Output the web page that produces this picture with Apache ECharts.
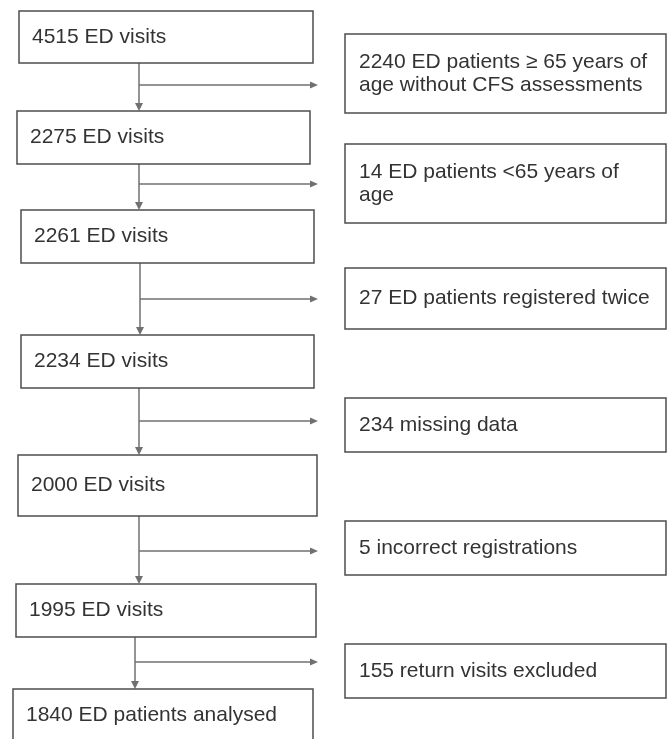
<!DOCTYPE html>
<html>
<head>
<meta charset="utf-8">
<script src="https://cdn.jsdelivr.net/npm/echarts@6/dist/echarts.min.js"></script>
<style>
  html, body { margin: 0; padding: 0; background: #fff; }
  #flow { width: 668px; height: 739px; }
</style>
</head>
<body>
<div id="flow"></div>
<script>
// flow counts and labels
const mainCounts = [4515, 2275, 2261, 2234, 2000, 1995, 1840];
const mainLabels = ['ED visits', 'ED visits', 'ED visits', 'ED visits', 'ED visits', 'ED visits', 'ED patients analysed'];
const excludedCounts = [2240, 14, 27, 234, 5, 155];
const excludedReasons = [
    'ED patients \u2265 65 years of\nage without CFS assessments',
    'ED patients <65 years of\nage',
    'ED patients registered twice',
    'missing data',
    'incorrect registrations',
    'return visits excluded'
];

// layout (axis units = page pixels)
const mainBoxes = [
    [19, 11, 313, 63], [17, 111, 310, 164], [21, 210, 314, 263], [21, 335, 314, 388],
    [18, 455, 317, 516], [16, 584, 316, 637], [13, 689, 313, 741]
];
const sideBoxes = [
    [345, 34, 666, 113], [345, 144, 666, 223], [345, 268, 666, 329],
    [345, 398, 666, 452], [345, 521, 666, 575], [345, 644, 666, 698]
];
const branchY = [85, 184, 299, 421, 551, 662];
const stemX = [139, 139, 140, 139, 139, 135];
const branchEnd = 318;

const lineColor = '#707070';
const boxColor = '#4d4d4d';
const textColor = '#333';
const font = '"Liberation Sans", Arial, sans-serif';

const chart = echarts.init(document.getElementById('flow'));

const boxItem = (api, b, text, pad) => {
    const p0 = api.coord([b[0], b[1]]);
    const p1 = api.coord([b[2], b[3]]);
    return {
        type: 'group',
        children: [
            {
                type: 'rect',
                shape: { x: p0[0], y: p0[1], width: p1[0] - p0[0], height: p1[1] - p0[1] },
                style: { fill: '#fff', stroke: boxColor, lineWidth: 1.5 }
            },
            {
                type: 'text',
                style: {
                    text: text, x: p0[0] + pad, y: (p0[1] + p1[1]) / 2,
                    fill: textColor, fontSize: 21, fontFamily: font,
                    align: 'left', verticalAlign: 'middle', lineHeight: 23
                }
            }
        ]
    };
};

const option = {
    animation: false,
    grid: { left: 0, right: 0, top: 0, bottom: 0 },
    xAxis: { type: 'value', min: 0, max: 668, show: false },
    yAxis: { type: 'value', min: 0, max: 739, inverse: true, show: false },
    series: [
        {
            // connectors between the main steps, with the side branch
            type: 'custom',
            coordinateSystem: 'cartesian2d',
            clip: false,
            data: excludedCounts.map((c, i) => [i, c]),
            renderItem: (params, api) => {
                const i = api.value(0);
                const x = stemX[i];
                const a = api.coord([x, mainBoxes[i][3]]);
                const b = api.coord([x, mainBoxes[i + 1][1]]);
                const s = api.coord([x, branchY[i]]);
                const e = api.coord([branchEnd, branchY[i]]);
                const st = { stroke: lineColor, lineWidth: 1.5 };
                return {
                    type: 'group',
                    children: [
                        { type: 'line', shape: { x1: a[0], y1: a[1], x2: b[0], y2: b[1] - 6 }, style: st },
                        { type: 'polygon', shape: { points: [[b[0] - 4, b[1] - 8], [b[0] + 4, b[1] - 8], [b[0], b[1]]] }, style: { fill: lineColor } },
                        { type: 'line', shape: { x1: s[0], y1: s[1], x2: e[0] - 6, y2: e[1] }, style: st },
                        { type: 'polygon', shape: { points: [[e[0] - 8, e[1] - 3.5], [e[0] - 8, e[1] + 3.5], [e[0], e[1]]] }, style: { fill: lineColor } }
                    ]
                };
            }
        },
        {
            type: 'custom',
            coordinateSystem: 'cartesian2d',
            clip: false,
            data: mainCounts.map((c, i) => [i, c]),
            renderItem: (params, api) => {
                const i = api.value(0);
                return boxItem(api, mainBoxes[i], mainCounts[i] + ' ' + mainLabels[i], 13);
            }
        },
        {
            type: 'custom',
            coordinateSystem: 'cartesian2d',
            clip: false,
            data: excludedCounts.map((c, i) => [i, c]),
            renderItem: (params, api) => {
                const i = api.value(0);
                return boxItem(api, sideBoxes[i], excludedCounts[i] + ' ' + excludedReasons[i], 14);
            }
        }
    ]
};

chart.setOption(option);
</script>
</body>
</html>
